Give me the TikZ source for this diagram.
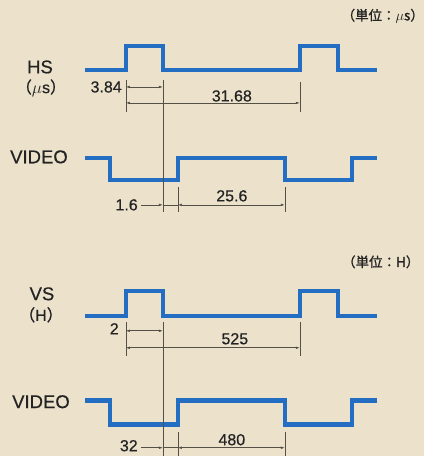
\documentclass[tikz,border=0pt]{standalone}
\usepackage{fontspec}
\setmainfont{Liberation Sans}[FakeBold=0.5]
\newfontfamily\jpfont{Noto Sans CJK JP}[FakeBold=1.2]
\usetikzlibrary{arrows.meta}

\definecolor{paper}{RGB}{236,226,204}
\definecolor{wave}{RGB}{35,110,195}
\definecolor{dimgray}{RGB}{85,80,70}
\definecolor{ink}{RGB}{35,35,35}

\begin{document}
\begin{tikzpicture}[x=1pt,y=-1pt,
   every node/.style={text=ink,inner sep=0pt},
   sig/.style={font=\fontsize{18.5}{18}\selectfont},
   sub/.style={font=\fontsize{16}{16}\selectfont},
   num/.style={font=\fontsize{16}{16}\selectfont},
   unitlbl/.style={font=\jpfont\fontsize{13.5}{14}\selectfont},
   wv/.style={wave,line width=4.5pt,line join=miter},
   ext/.style={dimgray,line width=0.6pt},
   dim/.style={dimgray,line width=0.6pt,
               {Latex[length=4pt,width=2.6pt]}-{Latex[length=4pt,width=2.6pt]}},
   arr/.style={dimgray,line width=0.6pt,-{Latex[length=4pt,width=2.6pt]}}
]
\fill[paper] (0,0) rectangle (424,456);

% Upper block: HS / VIDEO in microseconds
\node[unitlbl] (U1) at (383,16) {（単位：$\mu$s）};
\node[sig] (HS) at (40,67) {HS};
\node[sub] (HSu) at (41,88) {{\jpfont（}$\mu$s{\jpfont）}};
\node[sig] (V1) at (39,157) {VIDEO};

\draw[wv] (85,70) -- (126,70) -- (126,46) -- (163,46) -- (163,70)
   -- (300,70) -- (300,46) -- (338,46) -- (338,70) -- (377,70);
\draw[wv] (85,158) -- (110,158) -- (110,180) -- (178,180) -- (178,158)
   -- (285,158) -- (285,180) -- (352,180) -- (352,158) -- (377,158);

% extension lines
\coordinate (a1) at (126,80);  \coordinate (a2) at (126,112);
\coordinate (b1) at (163,80);  \coordinate (b2) at (163,212);
\coordinate (c1) at (300,82);  \coordinate (c2) at (300,112);
\coordinate (d1) at (178,187); \coordinate (d2) at (178,212);
\coordinate (e1) at (285,187); \coordinate (e2) at (285,212);
\draw[ext] (a1) -- (a2);
\draw[ext] (b1) -- (b2);
\draw[ext] (c1) -- (c2);
\draw[ext] (d1) -- (d2);
\draw[ext] (e1) -- (e2);

% dimensions
\node[num,anchor=east] (t384) at (122,87) {3.84};
\draw[dim] (126,87) -- (163,87);
\draw[dim] (126,103) -- (300,103);
\node[num] (t3168) at (232,96) {31.68};

\node[num,anchor=east] (t16) at (138,205) {1.6};
\coordinate (f1) at (163,205);
\coordinate (f2) at (178,205);
\draw[arr] (t16.east) ++(3,0) -- (f1);
\draw[ext] (f1) -- (f2);
\draw[dim] (f2) -- (285,205);
\node[num] (t256) at (232,196) {25.6};

% Lower block: VS / VIDEO in lines
\node[unitlbl] (U2) at (381,262) {（単位：H）};
\node[sig] (VS) at (42,294) {VS};
\node[sub] (VSu) at (41,315) {{\jpfont（}H{\jpfont）}};
\node[sig] (V2) at (41,402) {VIDEO};

\draw[wv] (85,316) -- (126,316) -- (126,291) -- (163,291) -- (163,316)
   -- (300,316) -- (300,291) -- (338,291) -- (338,316) -- (377,316);
\draw[wv] (85,401) -- (110,401) -- (110,425) -- (178,425) -- (178,401)
   -- (285,401) -- (285,425) -- (352,425) -- (352,401) -- (377,401);

% extension lines
\coordinate (g1) at (126,322); \coordinate (g2) at (126,356);
\coordinate (h1) at (163,322); \coordinate (h2) at (163,456);
\coordinate (i1) at (300,322); \coordinate (i2) at (300,356);
\coordinate (j1) at (178,432); \coordinate (j2) at (178,456);
\coordinate (k1) at (285,432); \coordinate (k2) at (285,456);
\draw[ext] (g1) -- (g2);
\draw[ext] (h1) -- (h2);
\draw[ext] (i1) -- (i2);
\draw[ext] (j1) -- (j2);
\draw[ext] (k1) -- (k2);

% dimensions
\node[num,anchor=east] (t2) at (119,329) {2};
\draw[dim] (126,331) -- (163,331);
\draw[dim] (126,348) -- (300,348);
\node[num] (t525) at (235,339) {525};

\node[num,anchor=east] (t32) at (138,446) {32};
\coordinate (m1) at (163,448);
\coordinate (m2) at (178,448);
\draw[arr] (t32.east) ++(3,2) -- (m1);
\draw[ext] (m1) -- (m2);
\draw[dim] (m2) -- (285,448);
\node[num] (t480) at (232,440) {480};

\end{tikzpicture}
\end{document}
